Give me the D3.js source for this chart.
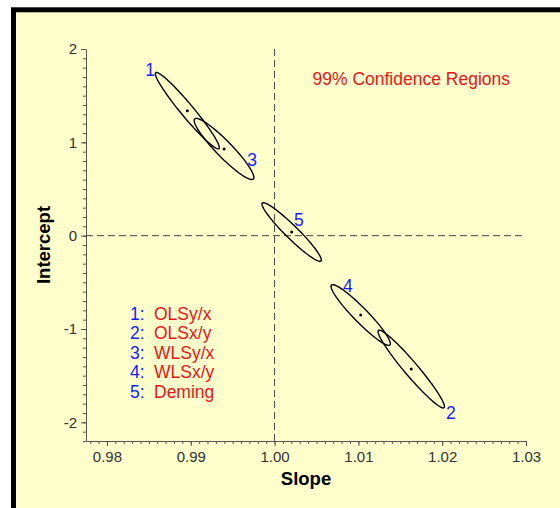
<!DOCTYPE html>
<html>
<head>
<meta charset="utf-8">
<script src="https://cdn.jsdelivr.net/npm/d3@7"></script>
<style>
  html, body { margin: 0; padding: 0; background: #fff; }
  svg { display: block; font-family: "Liberation Sans", Arial, sans-serif; }
  .axis path, .axis line { stroke: #555; }
  .axis text { fill: #333; font-size: 15px; }
</style>
</head>
<body>
<svg id="chart" width="560" height="508"></svg>
<script>
// regression methods, in legend order
var methods = ['OLSy/x', 'OLSx/y', 'WLSy/x', 'WLSx/y', 'Deming'];

// ellipse centres (slope, intercept)
var centerSlope     = [0.98959, 1.01631, 0.99397, 1.01028, 1.00204];
var centerIntercept = [1.339, -1.429, 0.929, -0.850, 0.039];

// one end of each major axis
var tipSlope     = [0.98582, 1.02022, 0.99746, 1.01377, 1.00554];
var tipIntercept = [1.746, -1.843, 0.607, -1.171, -0.271];

// minor / major axis ratio
var axisRatio = [0.13, 0.135, 0.19, 0.17, 0.155];

// where the numbers sit
var labelSlope     = [0.98514, 1.02105, 0.99731, 1.00876, 1.00291];
var labelIntercept = [1.775, -1.900, 0.811, -0.539, 0.168];

var xTicks = [0.98, 0.99, 1.00, 1.01, 1.02, 1.03];
var yTicks = [-2, -1, 0, 1, 2];

var svg = d3.select('#chart');

// panel with thick black frame (cut off at right/bottom)
svg.append('rect')
    .attr('x', 13.5).attr('y', 9.8)
    .attr('width', 700).attr('height', 700)
    .attr('fill', '#ffffcc')
    .attr('stroke', '#000')
    .attr('stroke-width', 5);

var x = d3.scaleLinear().domain([0.9775, 1.03]).range([86, 526]);
var y = d3.scaleLinear().domain([-2.2, 2]).range([441, 49]);

// reference lines at slope = 1, intercept = 0
svg.append('line')
    .attr('x1', x(1)).attr('x2', x(1))
    .attr('y1', y(2)).attr('y2', y(-2.2))
    .attr('stroke', '#444').attr('stroke-dasharray', '7,4');
svg.append('line')
    .attr('x1', x(0.9775)).attr('x2', x(1.03))
    .attr('y1', y(0)).attr('y2', y(0))
    .attr('stroke', '#444').attr('stroke-dasharray', '7,4');

// axes: minor ticks first, then major with labels
svg.append('g').attr('class', 'axis')
    .attr('transform', 'translate(0,' + y(-2.2) + ')')
    .call(d3.axisBottom(x).tickValues(d3.range(978, 1031).map(function (d) { return d / 1000; }))
      .tickSize(3).tickFormat(''))
    .select('.domain').remove();
svg.append('g').attr('class', 'axis')
    .attr('transform', 'translate(0,' + y(-2.2) + ')')
    .call(d3.axisBottom(x).tickValues(xTicks).tickSize(5).tickSizeOuter(0)
      .tickPadding(5).tickFormat(d3.format('.2f')));

svg.append('g').attr('class', 'axis')
    .attr('transform', 'translate(' + x(0.9775) + ',0)')
    .call(d3.axisLeft(y).tickValues(d3.range(-22, 21).map(function (d) { return d / 10; }))
      .tickSize(3).tickFormat(''))
    .select('.domain').remove();
svg.append('g').attr('class', 'axis')
    .attr('transform', 'translate(' + x(0.9775) + ',0)')
    .call(d3.axisLeft(y).tickValues(yTicks).tickSize(5).tickSizeOuter(0)
      .tickPadding(4).tickFormat(function (d) { return String(d); }));

// axis titles
svg.append('text')
    .attr('x', (x.range()[0] + x.range()[1]) / 2).attr('y', 485)
    .attr('text-anchor', 'middle')
    .style('font-size', '18.5px').style('font-weight', 'bold')
    .text('Slope');
svg.append('text')
    .attr('transform', 'translate(50,' + (y.range()[0] + y.range()[1]) / 2 + ') rotate(-90)')
    .attr('text-anchor', 'middle')
    .style('font-size', '18.5px').style('font-weight', 'bold')
    .text('Intercept');

// confidence ellipses, built in pixel space from centre, tip and ratio
var steps = d3.range(0, 120).map(function (i) { return i / 120 * 2 * Math.PI; });

function ellipsePoints(i) {
  var cx = x(centerSlope[i]), cy = y(centerIntercept[i]);
  var dx = x(tipSlope[i]) - cx, dy = y(tipIntercept[i]) - cy;
  var a = Math.sqrt(dx * dx + dy * dy);
  var ux = dx / a, uy = dy / a;
  var b = a * axisRatio[i];
  return steps.map(function (t) {
    return [cx + a * Math.cos(t) * ux - b * Math.sin(t) * uy,
            cy + a * Math.cos(t) * uy + b * Math.sin(t) * ux];
  });
}

var line = d3.line().curve(d3.curveLinearClosed);

svg.selectAll('path.ellipse')
    .data(methods)
    .enter()
    .append('path')
    .attr('class', 'ellipse')
    .attr('d', function (d, i) { return line(ellipsePoints(i)); })
    .attr('fill', 'none')
    .attr('stroke', '#000')
    .attr('stroke-width', 1.4);

svg.selectAll('circle.centre')
    .data(methods)
    .enter()
    .append('circle')
    .attr('class', 'centre')
    .attr('cx', function (d, i) { return x(centerSlope[i]); })
    .attr('cy', function (d, i) { return y(centerIntercept[i]); })
    .attr('r', 1.5)
    .attr('fill', '#000');

svg.selectAll('text.num')
    .data(methods)
    .enter()
    .append('text')
    .attr('class', 'num')
    .attr('x', function (d, i) { return x(labelSlope[i]); })
    .attr('y', function (d, i) { return y(labelIntercept[i]); })
    .attr('dy', '0.35em')
    .attr('text-anchor', 'middle')
    .attr('fill', '#1a1aff')
    .style('font-size', '17.5px')
    .text(function (d, i) { return i + 1; });

// title
svg.append('text')
    .attr('x', 312.5).attr('y', 85)
    .attr('fill', '#e8141a')
    .style('font-size', '17.5px')
    .text('99% Confidence Regions');

// legend
var legend = svg.selectAll('g.legend')
    .data(methods)
    .enter()
    .append('g')
    .attr('class', 'legend')
    .attr('transform', function (d, i) { return 'translate(130,' + (313.5 + i * 19.6) + ')'; });

legend.append('text')
    .attr('dy', '0.35em')
    .attr('fill', '#1a1aff')
    .style('font-size', '17.5px')
    .text(function (d, i) { return (i + 1) + ':'; });

legend.append('text')
    .attr('x', 24)
    .attr('dy', '0.35em')
    .attr('fill', '#e8141a')
    .style('font-size', '17.5px')
    .text(function (d) { return d; });
</script>
</body>
</html>
